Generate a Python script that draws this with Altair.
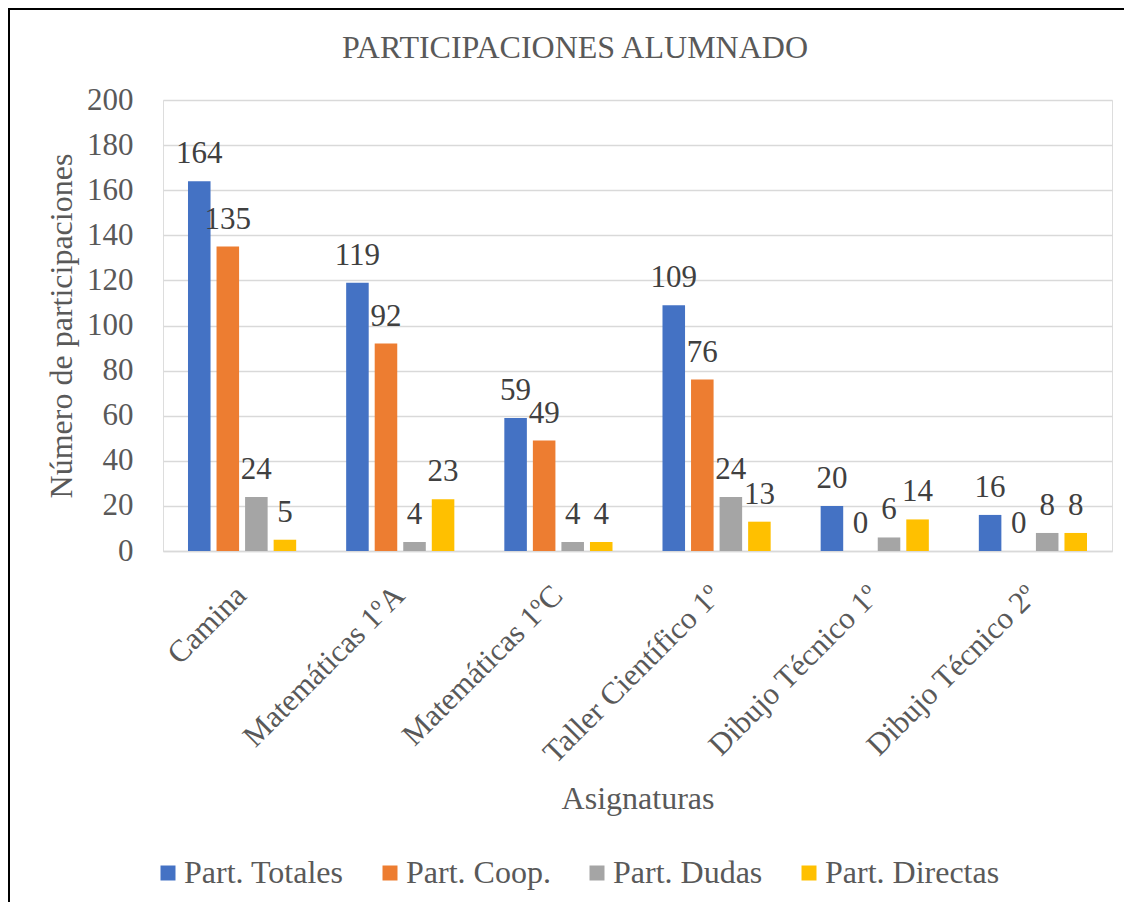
import altair as alt
import pandas as pd

categories = ["Camina", "Matemáticas 1ºA", "Matemáticas 1ºC",
              "Taller Científico 1º", "Dibujo Técnico 1º", "Dibujo Técnico 2º"]
series = ["Part. Totales", "Part. Coop.", "Part. Dudas", "Part. Directas"]
totales = [164, 119, 59, 109, 20, 16]
coop = [135, 92, 49, 76, 0, 0]
dudas = [24, 4, 4, 24, 6, 8]
directas = [5, 23, 4, 13, 14, 8]
colors = ["#4472C4", "#ED7D31", "#A5A5A5", "#FFC000"]
y_ticks = list(range(0, 201, 20))
chart_title = "PARTICIPACIONES ALUMNADO"

rows = []
for i, c in enumerate(categories):
    for s, vals in zip(series, [totales, coop, dudas, directas]):
        rows.append({"Asignatura": c, "Serie": s, "Valor": vals[i]})
df = pd.DataFrame(rows)

FONT = "'Liberation Serif', 'Times New Roman', Times, serif"
GREY = "#595959"
W, H = 949, 451

x_enc = alt.X(
    "Asignatura:N", sort=categories,
    scale=alt.Scale(paddingInner=0.316, paddingOuter=0.158),
    axis=alt.Axis(
        title="Asignaturas", labelAngle=-45, labelAlign="right", labelBaseline="top",
        labelFont=FONT, labelFontSize=31, labelColor=GREY, labelPadding=29,
        labelOffset=-11, labelLimit=0, labelOverlap=False,
        ticks=False, domain=True, domainColor="#D9D9D9", domainWidth=1.5,
        grid=False, titleFont=FONT, titleFontSize=32, titleColor=GREY,
        titleFontWeight="normal", titleY=247, titleBaseline="middle",
    ),
)
xoff_enc = alt.XOffset("Serie:N", sort=series,
                       scale=alt.Scale(paddingInner=0.21, paddingOuter=0))
y_enc = alt.Y(
    "Valor:Q", scale=alt.Scale(domain=[0, 200], nice=False),
    axis=alt.Axis(
        values=y_ticks, grid=True, gridColor="#D9D9D9", gridWidth=1.5,
        domain=False, ticks=False, labelPadding=30, labelFont=FONT,
        labelFontSize=31, labelColor=GREY, title="Número de participaciones",
        titleFont=FONT, titleFontSize=32, titleColor=GREY, titleFontWeight="normal",
        titleX=-102, titleY=H / 2, titleAngle=-90, titleBaseline="middle",
        titleAlign="center", titleLimit=0,
    ),
)

base = alt.Chart(df).encode(x=x_enc, xOffset=xoff_enc, y=y_enc)

bars = base.mark_bar().encode(
    color=alt.Color(
        "Serie:N", sort=series,
        scale=alt.Scale(domain=series, range=colors),
        legend=alt.Legend(
            title=None, orient="none", legendX=-11, legendY=757,
            direction="horizontal", symbolType="square", symbolSize=225,
            symbolStrokeWidth=0, labelFont=FONT, labelFontSize=32,
            labelColor=GREY, labelOffset=0, columnPadding=30, padding=0,
            labelLimit=0,
        ),
    )
)

labels = base.mark_text(
    baseline="alphabetic", dy=-18, font=FONT, fontSize=31, color="#404040"
).encode(text="Valor:Q")

title_layer = alt.Chart(pd.DataFrame({"t": [chart_title]})).mark_text(
    font=FONT, fontSize=32, color=GREY, baseline="middle", align="center"
).encode(x=alt.value(412), y=alt.value(-52), text="t:N")

frame = pd.DataFrame({"a": [0]})
left_edge = alt.Chart(frame).mark_rule(color="black", strokeWidth=2).encode(
    x=alt.value(-154), y=alt.value(-92), y2=alt.value(820))
top_edge = alt.Chart(frame).mark_rule(color="black", strokeWidth=2).encode(
    x=alt.value(-155), x2=alt.value(980), y=alt.value(-91))

chart = alt.layer(left_edge, top_edge, bars, labels, title_layer).properties(
    width=W, height=H,
    padding={"left": 155, "top": 92, "right": 12, "bottom": 351},
    autosize=alt.AutoSizeParams(type="none"),
).configure_view(stroke=None).configure(background="white")

chart.save("out.html", embed_options={"renderer": "svg", "actions": False})
